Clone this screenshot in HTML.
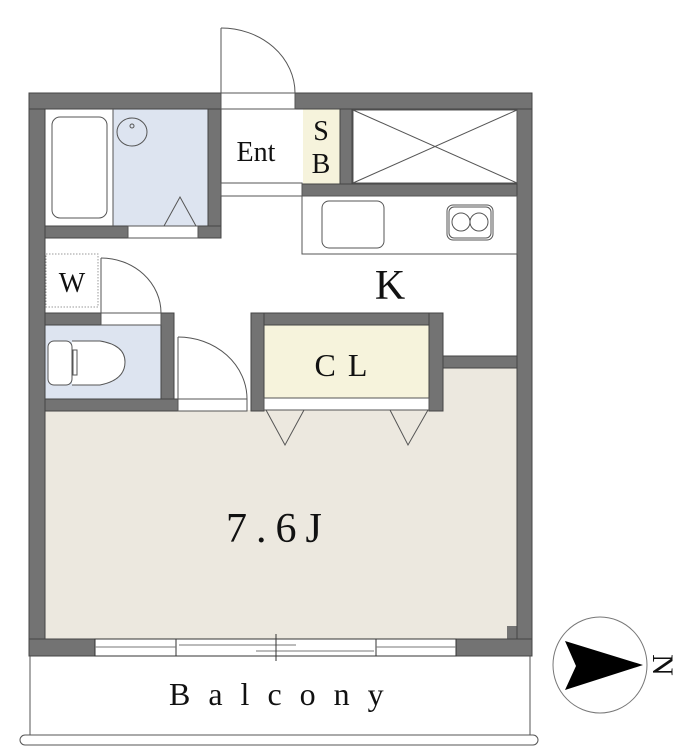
<!DOCTYPE html>
<html><head><meta charset="utf-8"><style>
html,body{margin:0;padding:0;background:#fff;}
svg{display:block;}
</style></head><body>
<svg width="700" height="755" viewBox="0 0 700 755" xmlns="http://www.w3.org/2000/svg">
<rect x="45" y="410" width="474" height="229" fill="#ece8df"/>
<rect x="443" y="368" width="76" height="44" fill="#ece8df"/>
<rect x="113" y="109" width="95" height="117" fill="#dde4f0"/>
<rect x="45" y="325" width="117" height="74" fill="#dde4f0"/>
<rect x="264" y="325" width="165" height="73" fill="#f6f3dc"/>
<rect x="303" y="109" width="37" height="75" fill="#f6f3dc"/>
<rect x="507" y="626" width="12" height="13" fill="#737373"/>

<g fill="#737373" stroke="#444" stroke-width="1">
<rect x="29" y="93" width="16" height="563"/>
<rect x="517" y="93" width="15" height="563"/>
<rect x="29" y="93" width="192" height="16"/>
<rect x="295" y="93" width="237" height="16"/>
<rect x="29" y="639" width="66" height="17"/>
<rect x="456" y="639" width="76" height="17"/>
<rect x="208" y="109" width="13" height="129"/>
<rect x="45" y="226" width="83" height="12"/>
<rect x="198" y="226" width="23" height="12"/>
<rect x="302" y="184" width="215" height="12"/>
<rect x="340" y="109" width="12" height="75"/>
<rect x="45" y="313" width="56" height="12"/>
<rect x="161" y="313" width="13" height="98"/>
<rect x="45" y="399" width="133" height="12"/>
<rect x="251" y="313" width="192" height="12"/>
<rect x="251" y="313" width="13" height="98"/>
<rect x="429" y="313" width="14" height="98"/>
<rect x="443" y="356" width="74" height="12"/>
</g>

<g fill="none" stroke="#555" stroke-width="1">
<line x1="113" y1="109" x2="113" y2="226"/>
<rect x="52" y="117" width="55" height="101" rx="8"/>
<ellipse cx="132" cy="132" rx="15" ry="14"/>
<circle cx="132" cy="126" r="2"/>
<polyline points="164,226 180,197 196,226"/>
<rect x="128" y="226" width="70" height="12" fill="#fff"/>
<line x1="221" y1="28" x2="221" y2="93"/>
<path d="M221 28 A74 65 0 0 1 295 93"/>
<rect x="221" y="93" width="74" height="16" fill="#fff"/>
<rect x="221" y="183" width="81" height="13" fill="#fff"/>
<rect x="353" y="110" width="164" height="73" fill="#fff"/>
<line x1="353" y1="110" x2="517" y2="183"/>
<line x1="353" y1="183" x2="517" y2="110"/>
<rect x="302" y="196" width="215" height="58"/>
<rect x="322" y="201" width="62" height="47" rx="7"/>
<rect x="447" y="205" width="46" height="35" rx="6"/>
<rect x="449" y="207" width="42" height="31" rx="5"/>
<circle cx="461" cy="222" r="9"/>
<circle cx="479" cy="222" r="9"/>
<rect x="46" y="254" width="52" height="53" stroke="#999" stroke-dasharray="1.5,1.5"/>
<line x1="101" y1="258" x2="101" y2="313"/>
<path d="M101 258 A60 55 0 0 1 161 313"/>
<rect x="101" y="313" width="60" height="12" fill="#fff"/>
<path d="M72 341 L100 341 Q125 345 125 362 Q125 380 100 385 L72 385" fill="#fff"/>
<rect x="48" y="341" width="24" height="44" rx="6" fill="#fff"/>
<rect x="73" y="350" width="4" height="25"/>
<line x1="178" y1="337" x2="178" y2="399"/>
<path d="M178 337 A69 62 0 0 1 247 399"/>
<rect x="178" y="399" width="69" height="12" fill="#fff"/>
<rect x="264" y="398" width="165" height="12" fill="#fff"/>
<polyline points="266,410 285,445 304,410"/>
<polyline points="390,410 408,445 428,410"/>
<rect x="95" y="639" width="361" height="17" fill="#fff" stroke="#333"/>
<line x1="176" y1="639" x2="176" y2="656" stroke="#333"/>
<line x1="376" y1="639" x2="376" y2="656" stroke="#333"/>
<line x1="95" y1="647" x2="176" y2="647" stroke="#777"/>
<line x1="376" y1="647" x2="456" y2="647" stroke="#777"/>
<line x1="179" y1="645" x2="296" y2="645" stroke="#777"/>
<line x1="256" y1="651" x2="374" y2="651" stroke="#777"/>
<line x1="276" y1="634" x2="276" y2="661" stroke="#333"/>
<line x1="30" y1="656" x2="30" y2="735"/>
<line x1="530" y1="656" x2="530" y2="735"/>
<rect x="20" y="735" width="518" height="10" rx="5"/>
<ellipse cx="600" cy="665" rx="47" ry="48" stroke="#777"/>
</g>
<polygon points="565,641 643,665 565,690 576,666" fill="#000"/>

<g font-family="Liberation Serif, DejaVu Serif, serif" fill="#111">
<text x="256" y="161" font-size="28" text-anchor="middle">Ent</text>
<text x="321" y="140" font-size="28" text-anchor="middle">S</text>
<text x="321" y="173" font-size="28" text-anchor="middle">B</text>
<text x="390" y="299" font-size="42" text-anchor="middle">K</text>
<text x="72" y="292" font-size="28" text-anchor="middle">W</text>
<text x="347" y="376" font-size="32" text-anchor="middle" letter-spacing="12">CL</text>
<text x="226" y="542" font-size="42" letter-spacing="9">7.6J</text>
<text x="169" y="705" font-size="32" letter-spacing="18">Balcony</text>
<text x="0" y="0" font-size="30" transform="translate(660,665) rotate(90)" text-anchor="middle" dominant-baseline="middle">N</text>
</g>
</svg>
</body></html>
